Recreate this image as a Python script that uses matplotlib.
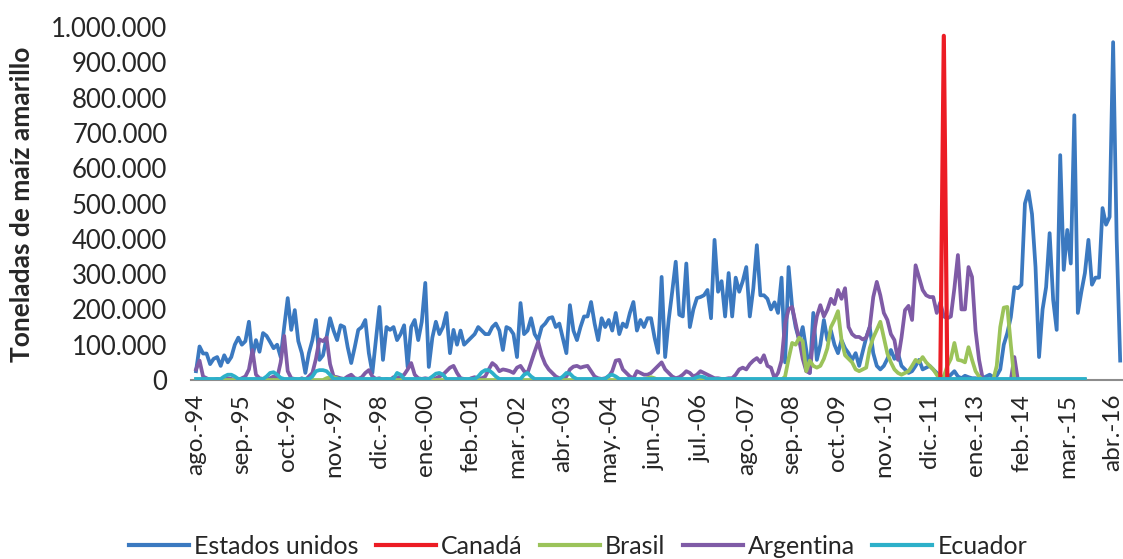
import matplotlib
matplotlib.use("Agg")
import matplotlib.pyplot as plt
import numpy as np

# ---------------- data (thousands of tonnes, monthly from ago-94) ----------------
estados_unidos = [
    25, 95, 75, 75, 45, 60, 65, 40, 70, 50, 65, 100, 120, 100, 110, 165, 65, 113, 80, 133,
    125, 108, 90, 100, 65, 150, 232, 142, 198, 110, 76, 20, 76, 113, 170, 57, 70, 120, 175, 140,
    113, 155, 150, 93, 48, 93, 142, 150, 170, 76, 20, 113, 207, 57, 150, 142, 150, 113, 130, 155,
    37, 150, 170, 113, 165, 275, 37, 120, 165, 130, 150, 190, 76, 142, 100, 140, 100, 110, 120, 130,
    150, 140, 130, 130, 150, 160, 140, 85, 150, 145, 130, 65, 218, 130, 140, 175, 130, 113, 150, 160,
    175, 178, 150, 160, 118, 76, 212, 140, 113, 150, 180, 180, 221, 160, 113, 175, 150, 170, 140, 190,
    130, 160, 150, 190, 221, 140, 170, 150, 175, 175, 120, 77, 292, 65, 170, 250, 335, 185, 180, 330,
    150, 200, 232, 235, 240, 255, 175, 397, 250, 280, 180, 303, 180, 290, 250, 280, 320, 180, 260, 382,
    240, 240, 230, 200, 220, 190, 290, 50, 320, 207, 150, 113, 150, 85, 20, 190, 57, 100, 170, 113,
    140, 100, 76, 113, 90, 76, 57, 76, 40, 80, 120, 150, 76, 40, 30, 40, 60, 85, 60, 76,
    40, 30, 20, 25, 40, 57, 30, 35, 40, 30, 20, 8, 10, 5, 15, 25, 10, 5, 12, 8,
    5, 5, 3, 5, 10, 15, 8, 12, 30, 100, 133, 178, 263, 260, 270, 500, 535, 470, 320, 65,
    200, 263, 416, 227, 142, 637, 312, 425, 330, 750, 190, 250, 303, 397, 270, 290, 290, 487, 440, 462,
    957, 400, 55,
]

# Canadá only reported around its single shipment month
canada = [np.nan] * 211 + [0, 975, 0] + [np.nan] * 39

brasil = (
    [0] * 37 + [5, 8, 8, 5] + [0] * 87 + [5, 8, 5] + [0] * 36 +
    [10, 60, 105, 100, 120, 110, 25, 55, 40, 35, 40, 60, 90, 150, 170, 195, 113, 70, 60, 50,
     30, 25, 30, 35, 90, 120, 142, 165, 120, 75, 50, 30, 20, 15, 20, 25, 40, 57, 50, 65,
     50, 40, 30, 15, 0, 10, 40, 60, 105, 57, 55, 50, 93, 57, 25, 10, 0, 0, 0, 0,
     40, 150, 205, 207, 100, 0] + [0] * 20
)

argentina = [
    30, 55, 10, 5, 0, 0, 3, 0, 0, 5, 3, 0, 0, 5, 10, 30, 85, 15, 5, 3,
    0, 5, 10, 5, 50, 125, 25, 5, 3, 0, 5, 0, 10, 20, 60, 115, 110, 120, 45, 10,
    8, 5, 3, 10, 15, 5, 3, 8, 20, 28, 10, 3, 5, 0, 3, 0, 8, 5, 10, 15,
    30, 48, 15, 5, 3, 5, 3, 0, 5, 10, 15, 25, 35, 40, 20, 5, 3, 0, 5, 8,
    3, 5, 10, 30, 48, 40, 25, 30, 28, 25, 20, 35, 40, 25, 20, 50, 80, 108, 70, 45,
    30, 20, 10, 5, 3, 10, 30, 38, 40, 35, 38, 40, 25, 10, 5, 3, 5, 10, 25, 55,
    57, 30, 20, 10, 5, 25, 20, 15, 15, 20, 30, 40, 50, 30, 20, 10, 5, 8, 15, 25,
    20, 10, 15, 25, 20, 15, 10, 5, 5, 3, 3, 5, 5, 15, 30, 35, 30, 45, 55, 62,
    50, 70, 40, 35, 5, 20, 55, 160, 200, 207, 160, 113, 60, 25, 20, 120, 180, 212, 180, 200,
    230, 215, 255, 230, 260, 150, 130, 122, 122, 115, 120, 150, 235, 278, 240, 190, 170, 130, 113, 57,
    120, 198, 210, 170, 325, 290, 255, 240, 235, 235, 190, 220, 180, 175, 180, 260, 354, 200, 200, 320,
    292, 140, 57, 5, 0, 0, 0, 0, 0, 0, 0, 0, 65, 0,
] + [0] * 19

ecuador = [3] * 253
for idx, v in {8: 10, 9: 15, 10: 15, 11: 10, 20: 10, 21: 20, 22: 22, 23: 15, 24: 6,
               33: 10, 34: 25, 35: 28, 36: 28, 37: 25, 38: 15, 57: 20, 58: 15,
               67: 10, 68: 18, 69: 20, 70: 15, 80: 10, 81: 22, 82: 28, 83: 28, 84: 20, 85: 10,
               93: 15, 94: 20, 95: 10, 104: 10, 105: 20, 106: 18, 107: 8,
               117: 12, 118: 15, 119: 10, 142: 8, 143: 10, 144: 8}.items():
    ecuador[idx] = v

tick_labels = ["ago.-94", "sep.-95", "oct.-96", "nov.-97", "dic.-98", "ene.-00", "feb.-01",
               "mar.-02", "abr.-03", "may.-04", "jun.-05", "jul.-06", "ago.-07", "sep.-08",
               "oct.-09", "nov.-10", "dic.-11", "ene.-13", "feb.-14", "mar.-15", "abr.-16"]
y_ticks = [0, 100000, 200000, 300000, 400000, 500000, 600000, 700000, 800000, 900000, 1000000]
y_tick_labels = ["0", "100.000", "200.000", "300.000", "400.000", "500.000", "600.000",
                 "700.000", "800.000", "900.000", "1.000.000"]

series = [
    ("Estados unidos", estados_unidos, "#3b79c0", 2, 2.7),
    ("Canadá", canada, "#ec1c24", 4, 3.0),
    ("Brasil", brasil, "#9bc35a", 3.6, 2.7),
    ("Argentina", argentina, "#7f5ba6", 3.5, 2.7),
    ("Ecuador", ecuador, "#2db0c9", 5, 2.7),
]

# ---------------- figure ----------------
plt.rcParams['font.family'] = ['Lato', 'DejaVu Sans']
W, H = 1123, 559
fig = plt.figure(figsize=(W / 100, H / 100), dpi=100)
ax = fig.add_axes([191 / W, (H - 380) / H, (1123 - 191) / W, 353 / H])

for name, vals, col, z, lw in series:
    y = np.array(vals, dtype=float) * 1000
    x = np.arange(len(y))
    ax.plot(x, y, color=col, lw=lw, label=name, zorder=z, solid_joinstyle='round')

ax.set_xlim(-1.42, 262.8)
ax.set_ylim(0, 1000000)
ax.set_yticks(y_ticks)
ax.set_yticklabels(y_tick_labels)
ax.set_xticks(np.arange(0, 13 * len(tick_labels), 13))
ax.set_xticklabels(tick_labels, rotation=90)
ax.tick_params(axis='y', length=0, pad=17, labelsize=18.5, labelcolor='#262626')
ax.tick_params(axis='x', length=0, pad=10, labelsize=17.5, labelcolor='#262626')
for s in ['top', 'right', 'left']:
    ax.spines[s].set_visible(False)
ax.spines['bottom'].set_color('#8c8c8c')
ax.spines['bottom'].set_linewidth(1.5)
ax.spines['bottom'].set_zorder(1)

fig.text(22 / W, 1 - 204 / H, "Toneladas de maíz amarillo", rotation=90,
         ha='center', va='center', fontsize=19, fontweight='bold', color='#262626')

handles, labels = ax.get_legend_handles_labels()
leg = fig.legend(handles, labels, loc='center', bbox_to_anchor=(578 / W, 1 - 546 / H),
                 ncol=5, frameon=False, fontsize=18, handlelength=2.4,
                 columnspacing=0.7, handletextpad=0.2, labelcolor='#262626')
for l in leg.get_lines():
    l.set_linewidth(3)

fig.savefig("out.png", dpi=100)
